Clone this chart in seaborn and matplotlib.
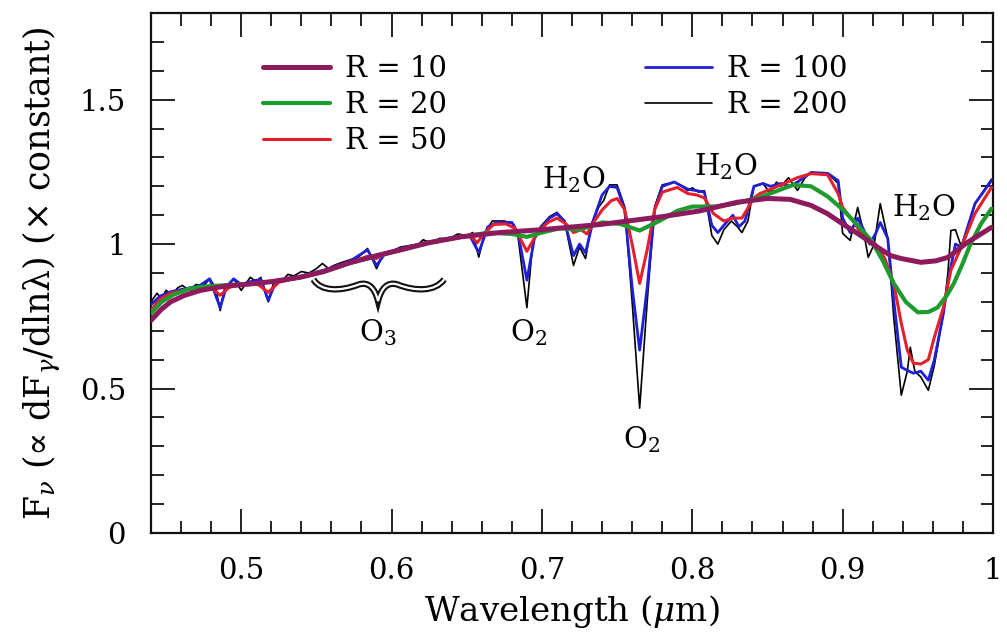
import numpy as np
import pandas as pd
import matplotlib
matplotlib.use("Agg")
import matplotlib.pyplot as plt
from matplotlib.ticker import MultipleLocator, FuncFormatter
from matplotlib.path import Path
from matplotlib.patches import PathPatch
import seaborn as sns

# Spectra: wavelength (micron) and flux for each resolution
wl_r10 = [0.440, 0.447, 0.453, 0.462, 0.473, 0.490, 0.506, 0.520, 0.539, 0.555, 0.572, 0.590,
          0.606, 0.625, 0.646, 0.672, 0.700, 0.739, 0.780, 0.805, 0.830, 0.850, 0.865, 0.879,
          0.890, 0.900, 0.912, 0.923, 0.932, 0.939, 0.952, 0.962, 0.970, 0.983, 0.999]
fx_r10 = [0.736, 0.775, 0.800, 0.822, 0.840, 0.855, 0.862, 0.870, 0.885, 0.905, 0.935, 0.960,
          0.980, 1.005, 1.025, 1.040, 1.050, 1.068, 1.095, 1.115, 1.145, 1.158, 1.155, 1.134,
          1.105, 1.070, 1.030, 0.990, 0.960, 0.950, 0.937, 0.942, 0.954, 1.006, 1.058]

wl_r20 = [0.440, 0.447, 0.455, 0.465, 0.473, 0.490, 0.506, 0.520, 0.539, 0.555, 0.572, 0.590,
          0.606, 0.625, 0.646, 0.665, 0.680, 0.690, 0.700, 0.712, 0.725, 0.740, 0.752, 0.765,
          0.778, 0.790, 0.800, 0.815, 0.828, 0.845, 0.867, 0.879, 0.890, 0.900, 0.910, 0.919,
          0.927, 0.934, 0.942, 0.950, 0.957, 0.963, 0.969, 0.974, 0.980, 0.985, 0.992, 0.999]
fx_r20 = [0.760, 0.800, 0.825, 0.845, 0.852, 0.858, 0.862, 0.870, 0.885, 0.905, 0.935, 0.958,
          0.980, 1.005, 1.025, 1.040, 1.035, 1.025, 1.040, 1.055, 1.050, 1.075, 1.070, 1.047,
          1.080, 1.115, 1.130, 1.130, 1.140, 1.162, 1.205, 1.200, 1.165, 1.120, 1.065, 1.013,
          0.940, 0.864, 0.800, 0.764, 0.765, 0.780, 0.820, 0.864, 0.935, 1.000, 1.070, 1.123]

wl_r50 = [0.440, 0.446, 0.453, 0.462, 0.473, 0.479, 0.486, 0.492, 0.500, 0.510, 0.518, 0.525,
          0.540, 0.555, 0.572, 0.584, 0.590, 0.596, 0.606, 0.625, 0.646, 0.652, 0.657, 0.662,
          0.668, 0.676, 0.682, 0.690, 0.697, 0.704, 0.710, 0.716, 0.721, 0.726, 0.730, 0.735,
          0.740, 0.746, 0.750, 0.755, 0.760, 0.765, 0.770, 0.775, 0.780, 0.790, 0.797, 0.803,
          0.808, 0.814, 0.821, 0.827, 0.833, 0.841, 0.845, 0.852, 0.859, 0.870, 0.879, 0.890,
          0.897, 0.900, 0.907, 0.914, 0.922, 0.928, 0.934, 0.939, 0.943, 0.947, 0.952, 0.957,
          0.961, 0.967, 0.972, 0.979, 0.988, 0.999]
fx_r50 = [0.770, 0.810, 0.830, 0.840, 0.848, 0.855, 0.823, 0.850, 0.860, 0.865, 0.833, 0.868,
          0.885, 0.905, 0.935, 0.958, 0.950, 0.968, 0.980, 1.005, 1.025, 1.030, 1.005, 1.040,
          1.068, 1.070, 1.055, 0.975, 1.040, 1.075, 1.090, 1.070, 1.040, 1.050, 1.035, 1.080,
          1.118, 1.150, 1.158, 1.120, 1.000, 0.864, 0.980, 1.120, 1.180, 1.196, 1.175, 1.170,
          1.160, 1.106, 1.080, 1.090, 1.090, 1.160, 1.175, 1.190, 1.205, 1.230, 1.244, 1.240,
          1.175, 1.127, 1.080, 1.023, 1.000, 0.950, 0.864, 0.726, 0.633, 0.588, 0.585, 0.600,
          0.678, 0.780, 0.910, 0.990, 1.106, 1.196]

wl_r100 = [0.440, 0.446, 0.453, 0.462, 0.472, 0.479, 0.486, 0.490, 0.495, 0.500, 0.506, 0.513,
           0.518, 0.523, 0.530, 0.540, 0.555, 0.572, 0.584, 0.590, 0.596, 0.606, 0.625, 0.646,
           0.652, 0.658, 0.664, 0.670, 0.680, 0.684, 0.690, 0.695, 0.700, 0.705, 0.710, 0.715,
           0.721, 0.725, 0.729, 0.734, 0.740, 0.745, 0.750, 0.755, 0.760, 0.765, 0.770, 0.775,
           0.780, 0.788, 0.797, 0.803, 0.808, 0.813, 0.817, 0.821, 0.827, 0.831, 0.835, 0.841,
           0.847, 0.852, 0.859, 0.865, 0.870, 0.879, 0.890, 0.897, 0.900, 0.905, 0.910, 0.914,
           0.918, 0.922, 0.925, 0.930, 0.934, 0.939, 0.943, 0.947, 0.952, 0.957, 0.961, 0.967,
           0.970, 0.975, 0.979, 0.988, 0.999]
fx_r100 = [0.790, 0.820, 0.835, 0.845, 0.855, 0.880, 0.780, 0.850, 0.880, 0.860, 0.870, 0.878,
           0.805, 0.870, 0.880, 0.890, 0.910, 0.940, 0.980, 0.926, 0.970, 0.985, 1.008, 1.028,
           1.030, 0.970, 1.060, 1.075, 1.075, 1.040, 0.875, 1.020, 1.060, 1.090, 1.105, 1.080,
           0.960, 1.000, 0.970, 1.080, 1.170, 1.200, 1.196, 1.120, 0.850, 0.633, 0.850, 1.120,
           1.200, 1.215, 1.190, 1.185, 1.180, 1.065, 1.040, 1.065, 1.100, 1.060, 1.080, 1.200,
           1.210, 1.200, 1.210, 1.200, 1.215, 1.248, 1.245, 1.220, 1.090, 1.040, 1.090, 1.050,
           1.000, 1.037, 1.075, 1.020, 0.805, 0.574, 0.563, 0.553, 0.560, 0.529, 0.600, 0.760,
           0.870, 1.000, 0.990, 1.140, 1.220]

wl_r200 = [0.440, 0.444, 0.447, 0.450, 0.454, 0.458, 0.461, 0.465, 0.470, 0.475, 0.479, 0.483,
           0.486, 0.489, 0.495, 0.500, 0.506, 0.510, 0.513, 0.518, 0.522, 0.528, 0.531, 0.535,
           0.540, 0.545, 0.550, 0.554, 0.558, 0.561, 0.566, 0.572, 0.578, 0.584, 0.590, 0.595,
           0.600, 0.606, 0.612, 0.618, 0.621, 0.626, 0.632, 0.638, 0.644, 0.650, 0.654, 0.658,
           0.662, 0.667, 0.675, 0.681, 0.684, 0.690, 0.694, 0.699, 0.705, 0.710, 0.715, 0.721,
           0.725, 0.729, 0.733, 0.738, 0.741, 0.745, 0.750, 0.755, 0.760, 0.765, 0.770, 0.775,
           0.780, 0.788, 0.793, 0.797, 0.800, 0.804, 0.808, 0.813, 0.817, 0.821, 0.826, 0.830,
           0.833, 0.837, 0.841, 0.847, 0.852, 0.856, 0.859, 0.864, 0.870, 0.875, 0.879, 0.890,
           0.897, 0.900, 0.905, 0.910, 0.914, 0.917, 0.921, 0.925, 0.930, 0.934, 0.939, 0.943,
           0.945, 0.948, 0.952, 0.957, 0.961, 0.967, 0.970, 0.972, 0.975, 0.979, 0.988, 0.999]
fx_r200 = [0.800, 0.830, 0.810, 0.840, 0.825, 0.850, 0.857, 0.840, 0.860, 0.855, 0.880, 0.850,
           0.770, 0.850, 0.880, 0.840, 0.885, 0.870, 0.885, 0.800, 0.875, 0.877, 0.895, 0.890,
           0.905, 0.900, 0.915, 0.933, 0.915, 0.925, 0.935, 0.945, 0.955, 0.985, 0.915, 0.970,
           0.975, 0.990, 0.995, 1.000, 1.015, 1.005, 1.020, 1.018, 1.035, 1.030, 1.040, 0.955,
           1.040, 1.080, 1.080, 1.070, 1.030, 0.780, 1.010, 1.060, 1.095, 1.110, 1.080, 0.926,
           0.990, 0.950, 1.070, 1.130, 1.150, 1.205, 1.205, 1.130, 0.800, 0.432, 0.800, 1.130,
           1.205, 1.215, 1.200, 1.185, 1.195, 1.180, 1.185, 1.030, 1.000, 1.050, 1.080, 1.060,
           1.040, 1.080, 1.200, 1.210, 1.175, 1.215, 1.200, 1.230, 1.186, 1.230, 1.248, 1.245,
           1.210, 1.037, 1.013, 1.127, 1.040, 0.954, 1.000, 1.140, 1.020, 0.745, 0.477, 0.560,
           0.643, 0.560, 0.540, 0.494, 0.580, 0.760, 0.900, 1.047, 1.050, 0.990, 1.140, 1.225]

series = [
    ("R = 200", wl_r200, fx_r200, "black", 1.2),
    ("R = 100", wl_r100, fx_r100, "#1f1fd6", 2.0),
    ("R = 50", wl_r50, fx_r50, "#e3202b", 2.2),
    ("R = 20", wl_r20, fx_r20, "#1f9a2e", 3.0),
    ("R = 10", wl_r10, fx_r10, "#8c1a5c", 3.6),
]

sns.set_style("ticks")
plt.rcParams["font.family"] = ["DejaVu Serif", "DejaVu Sans"]
plt.rcParams["mathtext.fontset"] = "dejavuserif"
plt.rcParams["text.color"] = "black"
plt.rcParams["axes.labelcolor"] = "black"

fig = plt.figure(figsize=(10.07, 6.35), dpi=100)
ax = fig.add_axes([151 / 1007, 1 - 533 / 635, (993 - 151) / 1007, (533 - 13) / 635])

for i, (lab, wl, fx, col, lw) in enumerate(series):
    df = pd.DataFrame({"wl": wl, "flux": fx})
    sns.lineplot(data=df, x="wl", y="flux", ax=ax, color=col, lw=lw,
                 estimator=None, sort=False, label=lab, zorder=2 + i,
                 solid_joinstyle="round")

ax.set_xlim(0.44, 1.0)
ax.set_ylim(0, 1.8)
ax.xaxis.set_major_locator(MultipleLocator(0.1))
ax.xaxis.set_minor_locator(MultipleLocator(0.02))
ax.yaxis.set_major_locator(MultipleLocator(0.5))
ax.yaxis.set_minor_locator(MultipleLocator(0.1))
fmt = FuncFormatter(lambda v, p: "%g" % round(v, 3))
ax.xaxis.set_major_formatter(fmt)
ax.yaxis.set_major_formatter(fmt)
ax.tick_params(which="both", direction="in", top=True, right=True, width=1.3,
               color="#111111", labelcolor="black")
ax.tick_params(which="major", length=17, labelsize=21)
ax.tick_params(axis="x", which="major", pad=17)
ax.tick_params(axis="y", which="major", pad=18)
ax.tick_params(which="minor", length=9)
for sp in ax.spines.values():
    sp.set_linewidth(1.6)
    sp.set_color("#111111")

ax.set_xlabel(r"Wavelength ($\mu$m)", fontsize=24.5, labelpad=6)
ax.set_ylabel(r"F$_\nu$ (∝ dF$_\gamma$/dlnλ) (× constant)", fontsize=25, labelpad=12)

# legend: two columns, R=10/20/50 then R=100/200
handles, labels = ax.get_legend_handles_labels()
order = ["R = 10", "R = 20", "R = 50", "R = 100", "R = 200"]
hmap = dict(zip(labels, handles))
ax.legend([hmap[k] for k in order], order, ncol=2, frameon=False, fontsize=21,
          loc="upper left", bbox_to_anchor=(263 / 1007, 1 - 55 / 635),
          bbox_transform=fig.transFigure, borderpad=0, borderaxespad=0,
          handlelength=2.3, handletextpad=0.5, labelspacing=0.27, columnspacing=6.8)

# molecule labels
tk = dict(fontsize=21, ha="center", va="center", color="black")
ax.text(0.721, 1.225, r"H$_2$O", **tk)
ax.text(0.822, 1.268, r"H$_2$O", **tk)
ax.text(0.954, 1.125, r"H$_2$O", **tk)
ax.text(0.691, 0.695, r"O$_2$", **tk)
ax.text(0.766, 0.325, r"O$_2$", **tk)
ax.text(0.591, 0.695, r"O$_3$", **tk)

# curly brace under the O3 band
verts = [(0.548, 0.878),
         (0.553, 0.835), (0.566, 0.836), (0.578, 0.860),
         (0.585, 0.872), (0.589, 0.845), (0.591, 0.803),
         (0.593, 0.845), (0.597, 0.872), (0.604, 0.860),
         (0.616, 0.836), (0.629, 0.835), (0.635, 0.878)]
codes = [Path.MOVETO] + [Path.CURVE4] * 12
brace = Path(verts, codes)
ax.add_patch(PathPatch(brace, facecolor="none", edgecolor="#111111", lw=4.6, zorder=8))
ax.add_patch(PathPatch(brace, facecolor="none", edgecolor="white", lw=1.6, zorder=9))

fig.savefig("out.png", dpi=100)
